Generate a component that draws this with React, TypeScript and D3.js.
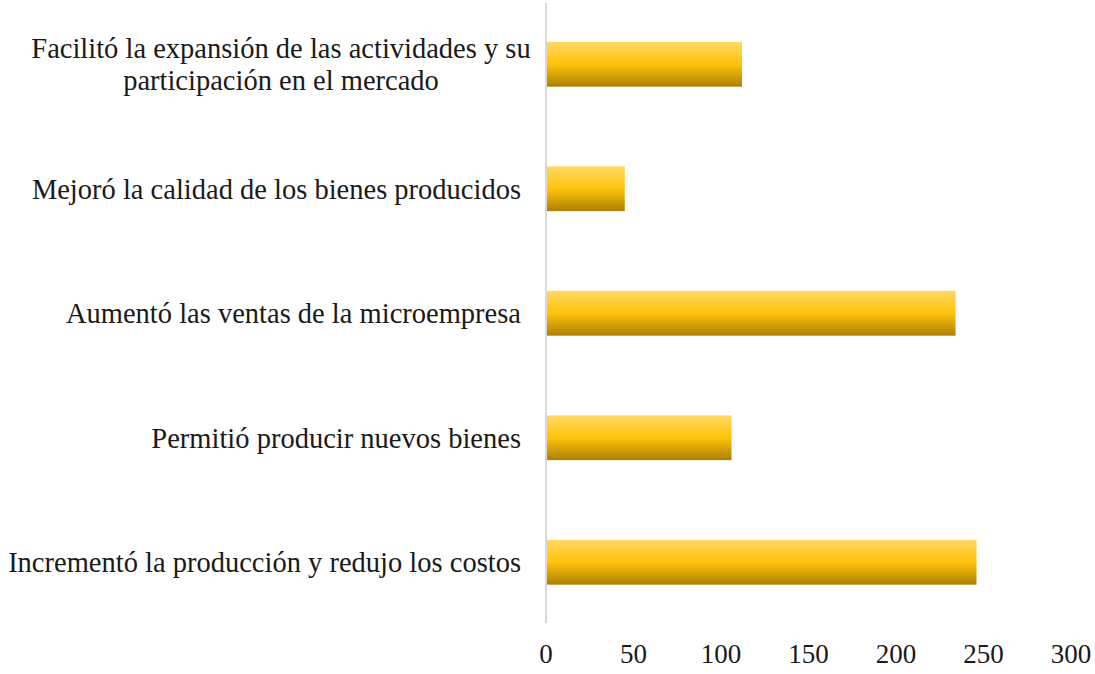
import React from "react";
import * as d3 from "d3";

const categories = [
  ["Facilitó la expansión de las actividades y su", "participación en el mercado"],
  ["Mejoró la calidad de los bienes producidos"],
  ["Aumentó las ventas de la microempresa"],
  ["Permitió producir nuevos bienes"],
  ["Incrementó la producción y redujo los costos"],
];
const values = [112, 45, 234, 106, 246];
const ticks = [0, 50, 100, 150, 200, 250, 300];

const W = 1095;
const H = 674;

export default function App() {
  const x = d3.scaleLinear().domain([0, 300]).range([546, 1071]);
  const y = d3
    .scaleBand<number>()
    .domain(d3.range(categories.length))
    .range([2, 624.5])
    .paddingInner(0.64)
    .paddingOuter(0.32);
  const font = "Liberation Serif, serif";
  return (
    <svg
      width={W}
      height={H}
      style={{ position: "absolute", left: 0, top: 0, background: "#fff" }}
    >
      <defs>
        <linearGradient id="barGrad" x1="0" y1="0" x2="0" y2="1">
          <stop offset="0%" stopColor="#FFD966" />
          <stop offset="50%" stopColor="#FFC30A" />
          <stop offset="100%" stopColor="#AB8000" />
        </linearGradient>
      </defs>
      {values.map((v, i) => (
        <rect
          key={i}
          x={x(0)}
          y={y(i)}
          width={x(v) - x(0)}
          height={y.bandwidth()}
          fill="url(#barGrad)"
        />
      ))}
      <line x1={x(0)} x2={x(0)} y1={3} y2={623} stroke="#D9D9D9" strokeWidth={2} />
      {categories.map((lines, i) => {
        const cy = (y(i) as number) + y.bandwidth() / 2;
        const lh = 32;
        const start = cy - ((lines.length - 1) * lh) / 2;
        const multi = lines.length > 1;
        return (
          <text
            key={i}
            textAnchor={multi ? "middle" : "end"}
            fontFamily={font}
            fontSize={28.5}
            fill="#1a1a1a"
          >
            {lines.map((l, j) => (
              <tspan key={j} x={multi ? 281 : 521} y={start + j * lh} dy="0.35em">
                {l}
              </tspan>
            ))}
          </text>
        );
      })}
      {ticks.map((t) => (
        <text
          key={t}
          x={x(t)}
          y={654}
          dy="0.35em"
          textAnchor="middle"
          fontFamily={font}
          fontSize={27}
          fill="#1a1a1a"
        >
          {t}
        </text>
      ))}
    </svg>
  );
}
